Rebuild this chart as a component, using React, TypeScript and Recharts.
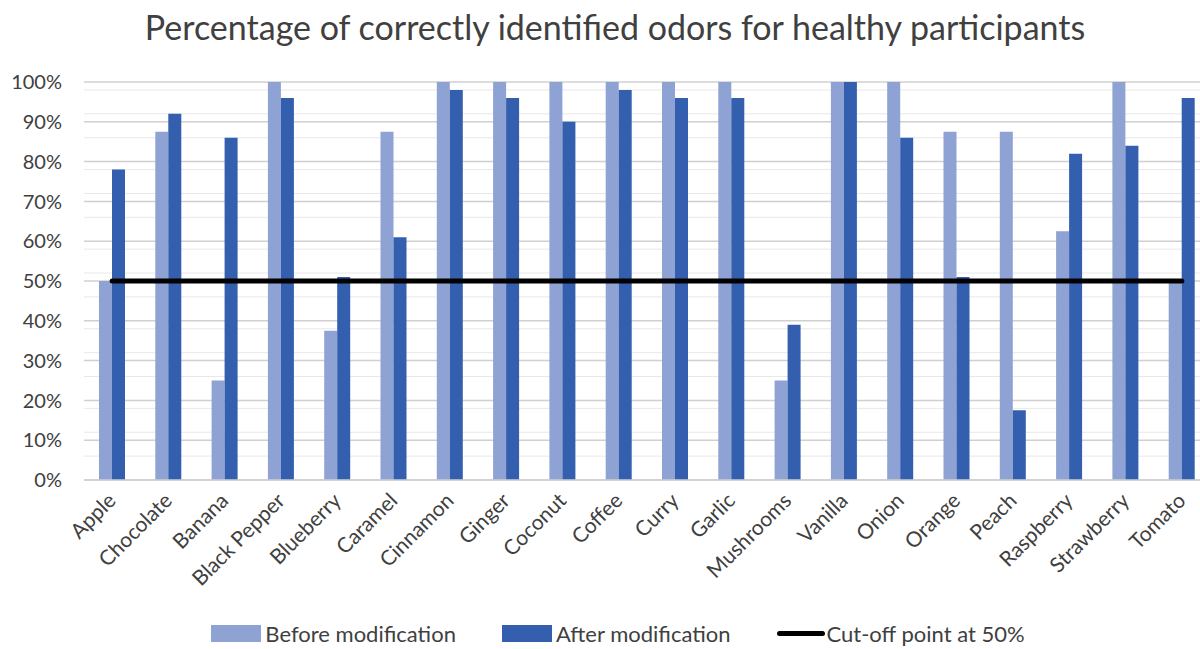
import { ComposedChart, Bar, Line, XAxis, YAxis, CartesianGrid, Legend } from 'recharts';

const odors = [
  'Apple', 'Chocolate', 'Banana', 'Black Pepper', 'Blueberry', 'Caramel', 'Cinnamon',
  'Ginger', 'Coconut', 'Coffee', 'Curry', 'Garlic', 'Mushrooms', 'Vanilla', 'Onion',
  'Orange', 'Peach', 'Raspberry', 'Strawberry', 'Tomato',
];
const beforeMod = [50, 87.5, 25, 100, 37.5, 87.5, 100, 100, 100, 100, 100, 100, 25, 100, 100, 87.5, 87.5, 62.5, 100, 50];
const afterMod = [78, 92, 86, 96, 51, 61, 98, 96, 90, 98, 96, 96, 39, 100, 86, 51, 17.5, 82, 84, 96];
const cutOff = 50;
const majorTicks = [0, 10, 20, 30, 40, 50, 60, 70, 80, 90, 100];
const minorTicks = [2, 4, 6, 8, 12, 14, 16, 18, 22, 24, 26, 28, 32, 34, 36, 38, 42, 44, 46, 48, 52, 54, 56, 58, 62, 64, 66, 68, 72, 74, 76, 78, 82, 84, 86, 88, 92, 94, 96, 98];

const data = odors.map((name, i) => ({
  name,
  before: beforeMod[i],
  after: afterMod[i],
  cutoff: cutOff,
}));

const FONT = 'Lato, "Open Sans", sans-serif';
const TEXT = '#404040';

function XTick({ x, y, payload }: any) {
  return (
    <text
      x={x + 5}
      y={y + 14}
      transform={`rotate(-45 ${x + 5} ${y + 14})`}
      textAnchor="end"
      fontSize={21}
      fontFamily={FONT}
      fill={TEXT}
    >
      {payload.value}
    </text>
  );
}

function LegendBox() {
  const item = (label: string, swatch: any, gap: number) => (
    <div style={{ display: 'flex', alignItems: 'center', marginRight: 46 }}>
      {swatch}
      <span style={{ marginLeft: gap }}>{label}</span>
    </div>
  );
  return (
    <div
      style={{
        display: 'flex',
        justifyContent: 'center',
        fontFamily: FONT,
        fontSize: 22,
        color: TEXT,
        paddingLeft: 64,
      }}
    >
      {item('Before modification', <div style={{ width: 50, height: 17, background: '#8fa2d4' }} />, 4)}
      {item('After modification', <div style={{ width: 50, height: 17, background: '#335fae' }} />, 4)}
      {item('Cut-off point at 50%', <div style={{ width: 48, height: 5, borderRadius: 3, background: '#000' }} />, 2)}
    </div>
  );
}

export default function App() {
  return (
    <div style={{ position: 'absolute', left: 0, top: 0, width: 1200, height: 649, overflow: 'hidden', background: '#fff' }}>
      <div
        style={{
          position: 'absolute',
          left: 0,
          width: 1230,
          top: 6,
          textAlign: 'center',
          fontFamily: FONT,
          fontSize: 34,
          color: TEXT,
        }}
      >
        Percentage of correctly identified odors for healthy participants
      </div>
      <ComposedChart
        width={1212}
        height={649}
        data={data}
        margin={{ top: 82, right: 2, bottom: 0, left: 8 }}
        barGap={0}
        barSize={13}
      >
        <CartesianGrid vertical={false} horizontalValues={minorTicks} stroke="#e8e8e8" strokeWidth={1} />
        <CartesianGrid vertical={false} horizontalValues={majorTicks} stroke="#d0d0d0" strokeWidth={1.5} />
        <XAxis
          dataKey="name"
          interval={0}
          height={140}
          tickLine={false}
          axisLine={{ stroke: '#cfcfcf', strokeWidth: 1.5 }}
          tick={<XTick />}
        />
        <YAxis
          domain={[0, 100]}
          ticks={majorTicks}
          width={76}
          tickLine={false}
          axisLine={false}
          tickMargin={16}
          tickFormatter={(v: number) => `${v}%`}
          tick={{ fontSize: 20, fontFamily: FONT, fill: TEXT }}
        />
        <Legend verticalAlign="bottom" height={29} content={<LegendBox />} />
        <Bar dataKey="before" name="Before modification" fill="#8fa2d4" isAnimationActive={false} />
        <Bar dataKey="after" name="After modification" fill="#335fae" isAnimationActive={false} />
        <Line
          dataKey="cutoff"
          name="Cut-off point at 50%"
          stroke="#000"
          strokeWidth={5}
          strokeLinecap="round"
          dot={false}
          activeDot={false}
          isAnimationActive={false}
        />
      </ComposedChart>
    </div>
  );
}
